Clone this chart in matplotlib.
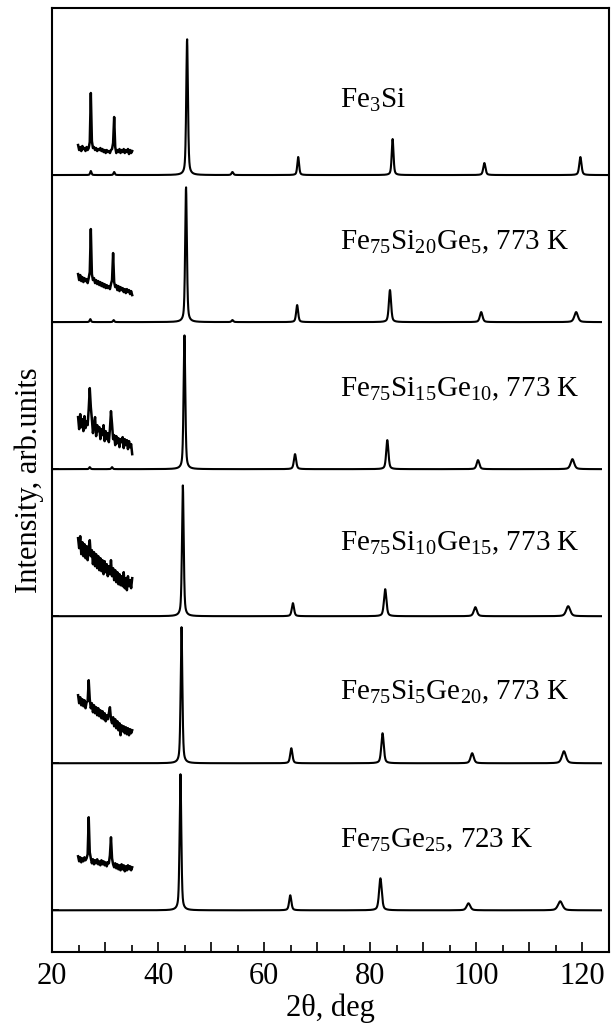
import matplotlib

matplotlib.use('Agg')
import matplotlib.pyplot as plt
from matplotlib.ticker import MultipleLocator, FuncFormatter
import numpy as np

plt.rcParams['font.family'] = ['Liberation Serif', 'DejaVu Serif']
plt.rcParams['mathtext.fontset'] = 'custom'
plt.rcParams['mathtext.rm'] = 'Liberation Serif'
plt.rcParams['mathtext.it'] = 'Liberation Serif'

# sample labels, top to bottom
labels = [r'Fe$_3$Si',
          r'Fe$_{75}$Si$_{20}$Ge$_5$, 773 K',
          r'Fe$_{75}$Si$_{15}$Ge$_{10}$, 773 K',
          r'Fe$_{75}$Si$_{10}$Ge$_{15}$, 773 K',
          r'Fe$_{75}$Si$_5$Ge$_{20}$, 773 K',
          r'Fe$_{75}$Ge$_{25}$, 723 K']

# peaks: 2theta (deg), height (arb.), FWHM (deg)
peak_pos = [
    [27.3, 31.7, 45.45, 54.0, 66.4, 84.2, 101.5, 119.6],
    [27.2, 31.6, 45.25, 54.0, 66.2, 83.7, 100.9, 118.8],
    [27.1, 31.3, 44.95, 65.8, 83.2, 100.3, 118.1],
    [44.65, 65.4, 82.8, 99.8, 117.3],
    [44.4, 65.1, 82.3, 99.2, 116.5],
    [44.2, 64.9, 81.9, 98.5, 115.8],
]
peak_height = [
    [4, 3, 136, 3, 18, 36, 12, 18],
    [3, 2, 135, 2, 17, 32, 10, 10],
    [2, 2, 134, 15, 29, 9, 10],
    [131, 13, 27, 9, 10],
    [136, 15, 30, 10, 12],
    [136, 15, 32, 7, 9],
]
peak_fwhm = [
    [0.3, 0.3, 0.38, 0.4, 0.4, 0.4, 0.5, 0.5],
    [0.3, 0.3, 0.38, 0.4, 0.45, 0.5, 0.6, 0.8],
    [0.3, 0.3, 0.38, 0.5, 0.5, 0.6, 0.8],
    [0.38, 0.5, 0.55, 0.7, 0.9],
    [0.38, 0.5, 0.55, 0.7, 0.9],
    [0.38, 0.5, 0.6, 0.8, 1.0],
]
x_end = [125.0, 123.5, 123.5, 123.5, 123.5, 123.5]

# magnified 25-35 deg region (superstructure lines), heights above baseline
inset_2theta = [24.9, 25.1, 25.3, 25.5, 25.7, 25.9, 26.1, 26.3, 26.5, 26.7,
                26.9, 27.1, 27.3, 27.5, 27.7, 27.9, 28.1, 28.3, 28.5, 28.7,
                28.9, 29.1, 29.3, 29.5, 29.7, 29.9, 30.1, 30.3, 30.5, 30.7,
                30.9, 31.1, 31.3, 31.5, 31.7, 31.9, 32.1, 32.3, 32.5, 32.7,
                32.9, 33.1, 33.3, 33.5, 33.7, 33.9, 34.1, 34.3, 34.5, 34.7,
                34.9, 35.1]
inset_values = [
    [30, 25, 28, 24, 29, 26, 27, 24, 28, 25, 27, 33, 82, 34, 27, 28, 25, 27,
     24, 26, 25, 27, 24, 26, 23, 25, 22, 25, 23, 24, 22, 25, 26, 32, 58, 28,
     22, 25, 23, 26, 22, 25, 23, 26, 22, 25, 23, 26, 21, 25, 22, 24],
    [48, 42, 47, 41, 45, 40, 44, 41, 43, 39, 44, 50, 93, 48, 42, 44, 39, 42,
     38, 41, 37, 40, 36, 39, 35, 38, 34, 37, 34, 36, 33, 38, 42, 69, 40, 35,
     37, 32, 36, 31, 35, 32, 34, 30, 33, 29, 33, 30, 32, 28, 31, 27],
    [52, 40, 55, 42, 50, 38, 53, 41, 48, 44, 60, 81, 62, 50, 36, 45, 52, 33,
     44, 38, 42, 30, 40, 34, 44, 28, 38, 30, 36, 27, 40, 58, 45, 30, 34, 24,
     33, 26, 31, 22, 30, 27, 32, 21, 30, 24, 29, 20, 28, 22, 25, 15],
    [78, 68, 80, 62, 74, 60, 72, 58, 70, 56, 68, 76, 60, 66, 52, 64, 50, 62,
     48, 60, 46, 58, 45, 56, 42, 55, 44, 52, 40, 50, 42, 56, 40, 48, 36, 46,
     34, 44, 32, 42, 31, 40, 30, 44, 28, 38, 26, 40, 30, 36, 28, 38],
    [68, 60, 66, 58, 64, 57, 63, 55, 61, 62, 83, 64, 55, 60, 51, 58, 50, 56,
     48, 55, 47, 53, 45, 52, 44, 50, 42, 48, 44, 50, 56, 44, 40, 46, 37, 44,
     35, 42, 33, 40, 28, 38, 32, 37, 30, 36, 29, 35, 28, 34, 30, 33],
    [54, 49, 53, 48, 52, 49, 53, 50, 52, 56, 93, 58, 52, 47, 51, 46, 50, 47,
     51, 46, 49, 45, 50, 46, 49, 45, 48, 44, 48, 47, 55, 73, 52, 46, 43, 47,
     42, 46, 41, 45, 40, 46, 41, 45, 39, 44, 40, 45, 41, 44, 40, 43],
]

spacing = 147
label_y = [75, 80, 80, 73, 71, 70]


def pattern(x, pos, height, fwhm):
    y = np.zeros_like(x)
    for p, h, w in zip(pos, height, fwhm):
        g = np.exp(-4 * np.log(2) * ((x - p) / w) ** 2)
        l = 1 / (1 + 4 * ((x - p) / w) ** 2)
        y += h * (0.5 * g + 0.5 * l)
    return y


fig = plt.figure(figsize=(6.13, 10.24), dpi=100)
ax = fig.add_axes([0.085, 0.07, 0.9085, 0.9222])

n = len(labels)
for i in range(n):
    off = (n - 1 - i) * spacing
    x = np.arange(20.0, x_end[i], 0.02)
    y = pattern(x, peak_pos[i], peak_height[i], peak_fwhm[i])
    ax.plot(x, y + off, color='black', lw=1.5)
    ax.plot(inset_2theta, np.array(inset_values[i]) + off, color='black', lw=1.8)
    ax.text(74.2, off + label_y[i], labels[i], fontsize=21, va='center', ha='left')

ax.set_xlim(20, 125)
ax.set_ylim(-42, 902)
ax.xaxis.set_major_locator(MultipleLocator(10))
ax.xaxis.set_minor_locator(MultipleLocator(5))
ax.xaxis.set_major_formatter(FuncFormatter(lambda v, p: '%d' % v if v % 20 == 0 else ''))
ax.set_yticks([k * spacing for k in range(n)])
ax.set_yticklabels([])
ax.tick_params(axis='both', which='both', direction='in', top=False, right=False)
ax.tick_params(axis='x', which='major', length=7, width=1.2, labelsize=22, pad=7)
ax.tick_params(axis='x', which='minor', length=5, width=1.2)
ax.tick_params(axis='y', length=5, width=1.2)
for s in ax.spines.values():
    s.set_linewidth(1.5)

ax.set_xlabel('2θ, deg', fontsize=22, labelpad=2)
ax.set_ylabel('Intensity, arb.units', fontsize=22, labelpad=2)

plt.savefig('out.png', dpi=100)
